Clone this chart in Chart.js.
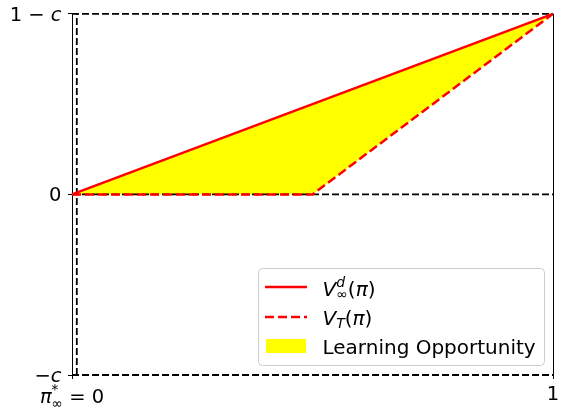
<!DOCTYPE html>
<html>
<head>
<meta charset="utf-8">
<script src="https://cdn.jsdelivr.net/npm/chart.js@4.4.1/dist/chart.umd.min.js"></script>
<style>
  html, body { margin: 0; padding: 0; background: #fff; }
  #wrap { width: 570px; height: 412px; }
</style>
</head>
<body>
<div id="wrap"><canvas id="chart"></canvas></div>
<script>
// values (c = 0.5)
const xTicks = [0, 1];
const yTicks = [-0.5, 0, 0.5];
const infX = [0, 1];          // V_inf^d(pi)
const infY = [0, 0.5];
const finX = [0, 0.5, 1];     // V_T(pi)
const finY = [0, 0, 0.5];
const refLevels = [-0.5, 0, 0.5]; // -c, 0, 1-c
const refSpan = [0, 1];
const bestPi = 0.01;          // pi*_inf
const bestSpan = [-0.5, 0.5];

const FONT = "'DejaVu Sans', sans-serif";
const TICK_SIZE = 19.5;
const LEG_SIZE = 20;

const pts = (xs, ys) => xs.map((x, i) => ({ x: x, y: ys[i] }));

const refSets = refLevels.map(v => ({
  data: pts(refSpan, [v, v]),
  borderColor: "#000",
  borderWidth: 1.8,
  borderDash: [7, 3],
  pointRadius: 0,
  fill: false,
  clip: false
}));

// text with italics and sub/superscripts
function drawRuns(ctx, runs, x, y, align, size) {
  const layout = (cx0, draw) => {
    let cx = cx0, prevStart = cx0, prevEnd = cx0;
    runs.forEach(r => {
      ctx.font = (r.it ? "italic " : "") + (size * (r.s || 1)) + "px " + FONT;
      const w = ctx.measureText(r.t).width;
      const start = r.over ? prevStart : cx;
      if (draw) ctx.fillText(r.t, start, y + (r.dy || 0) * size / 18);
      const end = start + w;
      cx = r.over ? Math.max(prevEnd, end) : end;
      prevStart = start; prevEnd = end;
    });
    return cx - cx0;
  };
  const total = layout(0, false);
  const x0 = align === "right" ? x - total : align === "center" ? x - total / 2 : x;
  ctx.fillStyle = "#000";
  ctx.textAlign = "left";
  ctx.textBaseline = "alphabetic";
  layout(x0, true);
}

const yLabels = {
  "0.5": [{ t: "1 \u2212 " }, { t: "c", it: true }],
  "0": [{ t: "0" }],
  "-0.5": [{ t: "\u2212" }, { t: "c", it: true }]
};

const labelPlugin = {
  id: "mathLabels",
  afterDraw(chart) {
    const ctx = chart.ctx;
    const a = chart.chartArea;
    const sx = chart.scales.x, sy = chart.scales.y;
    ctx.save();
    // right spine
    ctx.strokeStyle = "#000";
    ctx.lineWidth = 1;
    ctx.beginPath();
    ctx.moveTo(Math.round(a.right) + 0.5, a.top);
    ctx.lineTo(Math.round(a.right) + 0.5, a.bottom);
    ctx.stroke();

    yTicks.forEach(v => {
      drawRuns(ctx, yLabels[String(v)], a.left - 10.5, sy.getPixelForValue(v) + 7, "right", TICK_SIZE);
    });
    drawRuns(ctx, [
      { t: "\u03c0", it: true },
      { t: "*", s: 0.7, dy: -8 },
      { t: "\u221e", s: 0.7, dy: 5, over: true },
      { t: " = 0" }
    ], sx.getPixelForValue(xTicks[0]), 403, "center", TICK_SIZE);
    drawRuns(ctx, [{ t: "1" }], sx.getPixelForValue(xTicks[1]), 400, "center", TICK_SIZE);

    // legend
    const bx = 258, by = 268, bw = 286, bh = 97;
    ctx.fillStyle = "rgba(255,255,255,0.8)";
    ctx.strokeStyle = "#cccccc";
    ctx.lineWidth = 1;
    ctx.beginPath();
    ctx.roundRect(bx + 0.5, by + 0.5, bw, bh, 4);
    ctx.fill();
    ctx.stroke();

    ctx.strokeStyle = "#ff0000";
    ctx.lineWidth = 2.5;
    ctx.beginPath();
    ctx.moveTo(265, 287); ctx.lineTo(307, 287);
    ctx.stroke();
    ctx.setLineDash([9, 4]);
    ctx.beginPath();
    ctx.moveTo(265, 317); ctx.lineTo(307, 317);
    ctx.stroke();
    ctx.setLineDash([]);
    ctx.fillStyle = "#ffff00";
    ctx.fillRect(266, 339, 40, 14);

    drawRuns(ctx, [
      { t: "V", it: true },
      { t: "d", it: true, s: 0.7, dy: -8 },
      { t: "\u221e", s: 0.7, dy: 3, over: true },
      { t: "(" }, { t: "\u03c0", it: true }, { t: ")" }
    ], 322.5, 296, "left", LEG_SIZE);
    drawRuns(ctx, [
      { t: "V", it: true },
      { t: "T", it: true, s: 0.7, dy: 3 },
      { t: "(" }, { t: "\u03c0", it: true }, { t: ")" }
    ], 322.5, 325, "left", LEG_SIZE);
    drawRuns(ctx, [{ t: "Learning Opportunity" }], 322.5, 353.5, "left", LEG_SIZE);
    ctx.restore();
  }
};

new Chart(document.getElementById("chart"), {
  type: "line",
  data: {
    datasets: [
      {
        label: "V_inf^d(pi)",
        data: pts(infX, infY),
        borderColor: "#ff0000",
        borderWidth: 2.5,
        pointRadius: 0,
        fill: false,
        clip: false
      },
      {
        label: "V_T(pi)",
        data: pts(finX, finY),
        borderColor: "#ff0000",
        borderWidth: 2.5,
        borderDash: [9, 4],
        pointRadius: 0,
        backgroundColor: "#ffff00",
        fill: 0,
        clip: false
      },
      ...refSets,
      {
        label: "pi*",
        data: pts([bestPi, bestPi], bestSpan),
        borderColor: "#000",
        borderWidth: 1.8,
        borderDash: [7, 3],
        pointRadius: 0,
        fill: false,
        clip: false
      }
    ]
  },
  options: {
    responsive: true,
    maintainAspectRatio: false,
    animation: false,
    layout: { padding: { left: 0, right: 17, top: 13, bottom: 0 } },
    plugins: {
      legend: { display: false },
      tooltip: { enabled: false },
      filler: { drawTime: "beforeDatasetsDraw" }
    },
    scales: {
      x: {
        type: "linear",
        min: 0,
        max: 1,
        afterBuildTicks: s => { s.ticks = xTicks.map(v => ({ value: v })); },
        ticks: { color: "rgba(0,0,0,0)", font: { size: 18 } },
        grid: { drawOnChartArea: false, drawTicks: true, tickLength: 4, color: "#000" },
        border: { display: false },
        afterFit: s => { s.height = 37; }
      },
      y: {
        type: "linear",
        min: -0.5,
        max: 0.5,
        afterBuildTicks: s => { s.ticks = yTicks.map(v => ({ value: v })); },
        ticks: { color: "rgba(0,0,0,0)", font: { size: 18 } },
        grid: { drawOnChartArea: false, drawTicks: true, tickLength: 4, color: "#000" },
        border: { display: true, color: "#000", width: 1 },
        afterFit: s => { s.width = 72; }
      }
    }
  },
  plugins: [labelPlugin]
});
</script>
</body>
</html>
